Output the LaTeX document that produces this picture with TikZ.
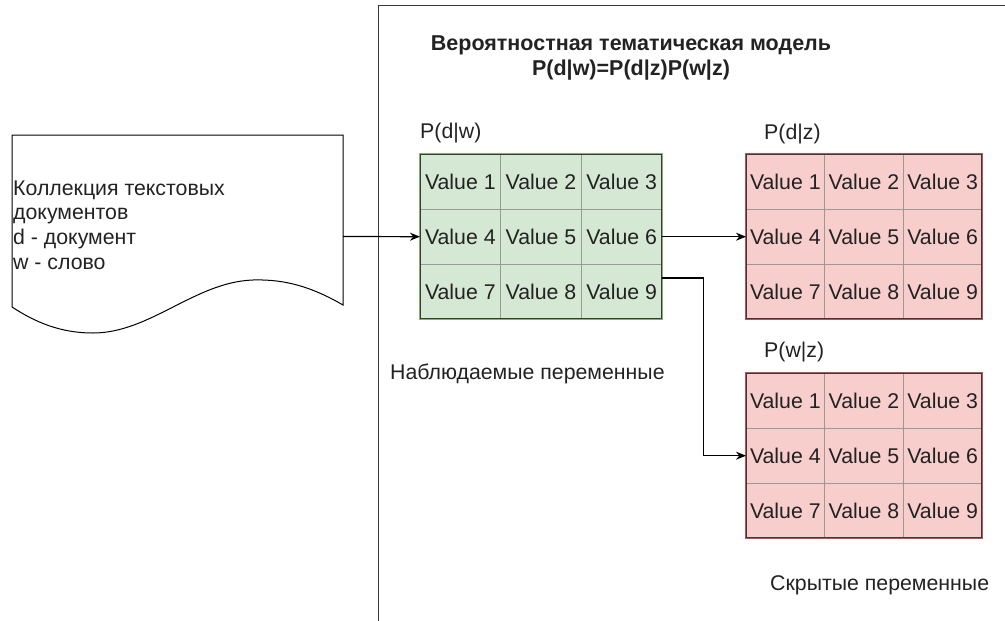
\documentclass[tikz,border=0pt]{standalone}
\usepackage{fontspec}
\setmainfont{Liberation Sans}
\usetikzlibrary{arrows.meta,calc}
\definecolor{txt}{HTML}{222222}
\definecolor{darkline}{HTML}{36393D}
\definecolor{gfill}{HTML}{D5E8D4}
\definecolor{gstroke}{HTML}{82B366}
\definecolor{rfill}{HTML}{F8CECC}
\definecolor{rstroke}{HTML}{B85450}
\definecolor{gridc}{HTML}{999999}
\tikzset{
  lbl/.style={font=\fontsize{21.3}{24.6}\selectfont, text=txt, inner sep=0pt},
  cell/.style={font=\fontsize{21.3}{24.6}\selectfont, text=txt, inner sep=0pt},
  conn/.style={draw=black, line width=1.2pt, -{Stealth[length=10pt,width=8pt]}},
}
\newcommand\mytable[6]{% name, left, top, width, fill, stroke
  \node[draw=none, fill=#5, minimum width=#4pt, minimum height=165pt, inner sep=0pt, anchor=north west] (#1) at (#2,#3) {};
  \draw[gridc, line width=0.8pt] ($(#1.north west)!1/3!(#1.north east)$) -- ($(#1.south west)!1/3!(#1.south east)$);
  \draw[gridc, line width=0.8pt] ($(#1.north west)!2/3!(#1.north east)$) -- ($(#1.south west)!2/3!(#1.south east)$);
  \draw[gridc, line width=0.8pt] ($(#1.north west)!1/3!(#1.south west)$) -- ($(#1.north east)!1/3!(#1.south east)$);
  \draw[gridc, line width=0.8pt] ($(#1.north west)!2/3!(#1.south west)$) -- ($(#1.north east)!2/3!(#1.south east)$);
  \draw[#6, line width=2pt] (#1.north west) rectangle (#1.south east);
  \draw[darkline, line width=0.9pt] ($(#1.north west)+(0.6,0.6)$) rectangle ($(#1.south east)+(-0.6,-0.6)$);
  \foreach \r in {0,1,2} {
    \foreach \c in {0,1,2} {
      \pgfmathtruncatemacro\k{3*\r+\c+1}
      \node[cell] (#1-\k) at ($(#1.north west)+({(\c+0.5)*#4/3},{(\r+0.5)*55})$) {Value \k};
    }
  }
}
\begin{document}
\begin{tikzpicture}[x=1pt,y=-1pt]
\useasboundingbox (0,0) rectangle (1005,621);
% container
\draw[darkline, line width=1pt] (378,621) -- (378,5) -- (1006,5);
% document
\node[minimum width=331pt, minimum height=203pt, inner sep=0pt] (doc) at (177.5,236.5) {};
\draw[black, line width=1pt] (12,135) -- (343,135) -- (343,305)
  .. controls (312,287) and (285,279) .. (253,280)
  .. controls (195,282) and (150,333) .. (93,333)
  .. controls (60,333) and (35,322) .. (12,307) -- cycle;
\node[lbl, anchor=west, align=left] (doctext) at (13,225) {Коллекция текстовых\\документов\\d - документ\\w - слово};
% title
\node[lbl, font=\fontsize{21.5}{25}\bfseries\selectfont, align=center] (title) at (631,58) {Вероятностная тематическая модель\\P(d|w)=P(d|z)P(w|z)};
% tables
\mytable{green}{420}{154}{242}{gfill}{gstroke}
\mytable{redA}{746}{154}{236}{rfill}{rstroke}
\mytable{redB}{746}{373}{236}{rfill}{rstroke}
% labels
\node[lbl, anchor=west] (lpdw) at (420,133) {P(d|w)};
\node[lbl, anchor=west] (lpdz) at (764,134) {P(d|z)};
\node[lbl, anchor=west] (lpwz) at (764,352) {P(w|z)};
\node[lbl, anchor=west] (obs) at (390,374) {Наблюдаемые переменные};
\node[lbl, anchor=west] (hid) at (770,585) {Скрытые переменные};
% connectors
\draw[conn] (doc.east) -- (green.west);
\draw[conn] (green.east) -- (redA.west);
\coordinate (gout) at ($(green.north east)!0.75!(green.south east)$);
\draw[conn] (gout) -- ++(41,0) |- (redB.west);
\end{tikzpicture}
\end{document}
